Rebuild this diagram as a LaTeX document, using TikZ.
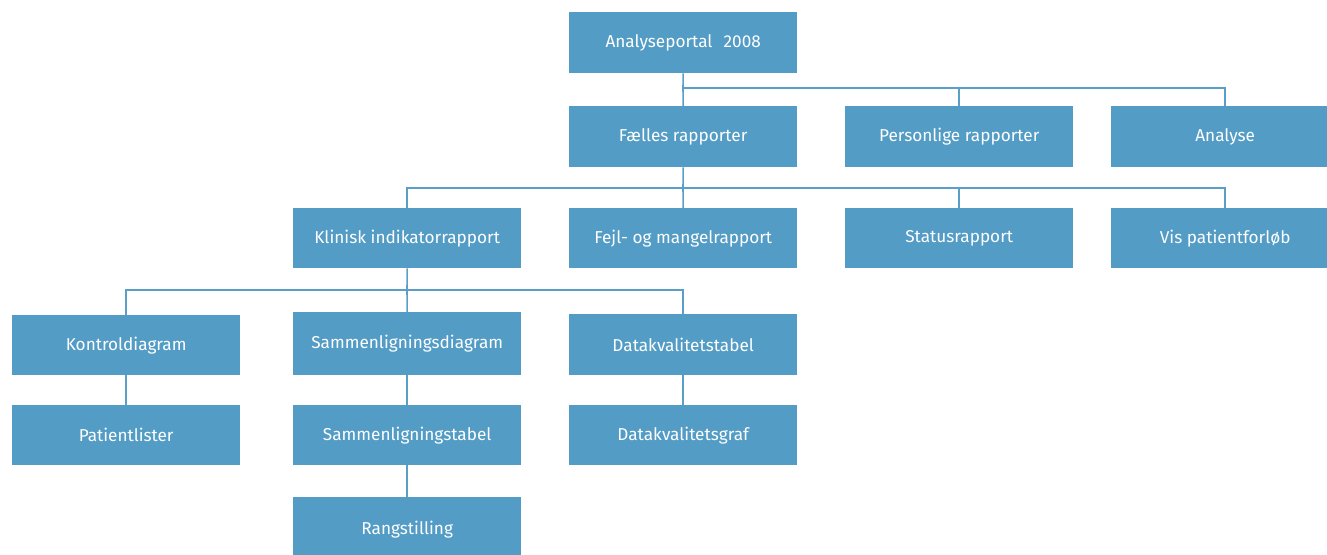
\documentclass[tikz,border=0pt]{standalone}
\usepackage{fontspec}
\setmainfont{Fira Sans}
\definecolor{boxblue}{HTML}{529CC5}
\definecolor{lineblue}{HTML}{5A9FC8}
\begin{document}
\begin{tikzpicture}[x=1pt,y=-1pt,
  box/.style={fill=boxblue, text=white, minimum width=228pt, minimum height=61pt,
    inner sep=0pt, anchor=north west, font=\fontsize{17.2}{20}\selectfont},
  conn/.style={draw=lineblue, line width=1.6pt}]
\useasboundingbox (0,0) rectangle (1327,554);
\clip (0,0) rectangle (1327,554);
\node[box] (ap) at (569,12) {Analyseportal\hspace{0.65em}2008};
\node[box] (fr) at (569,106) {Fælles rapporter};
\node[box] (pr) at (845,106) {Personlige rapporter};
\node[box] (an) at (1111,106) {Analyse};
\node[box, minimum height=60pt] (ki) at (293,208) {Klinisk indikatorrapport};
\node[box, minimum height=60pt] (fm) at (569,208) {Fejl- og mangelrapport};
\node[box, minimum height=60pt] (sr) at (845,208) {Statusrapport};
\node[box, minimum height=60pt] (vp) at (1111,208) {Vis patientforløb};
\node[box, minimum height=60pt] (kd) at (12,315) {Kontroldiagram};
\node[box, minimum height=63pt] (sd) at (293,312) {Sammenligningsdiagram};
\node[box] (dk) at (569,314) {Datakvalitetstabel};
\node[box, minimum height=60pt] (pl) at (12,405) {Patientlister};
\node[box, minimum height=60pt] (stab) at (293,405) {Sammenligningstabel};
\node[box, minimum height=60pt] (dg) at (569,405) {Datakvalitetsgraf};
\node[box, minimum height=64pt] (rg) at (293,497) {Rangstilling};
\coordinate (b1) at (683,88);
\coordinate (b2) at (683,188);
\coordinate (b3) at (407,290);
\draw[conn] (ap.south) -- (b1) -- (fr.north);
\draw[conn] (b1) -| (pr.north);
\draw[conn] (b1) -| (an.north);
\draw[conn] (fr.south) -- (b2) -- (fm.north);
\draw[conn] (b2) -| (ki.north);
\draw[conn] (b2) -| (sr.north);
\draw[conn] (b2) -| (vp.north);
\draw[conn] (ki.south) -- (b3) -- (sd.north);
\draw[conn] (b3) -| (kd.north);
\draw[conn] (b3) -| (dk.north);
\draw[conn] (kd.south) -- (pl.north);
\draw[conn] (sd.south) -- (stab.north);
\draw[conn] (stab.south) -- (rg.north);
\draw[conn] (dk.south) -- (dg.north);
\end{tikzpicture}
\end{document}
